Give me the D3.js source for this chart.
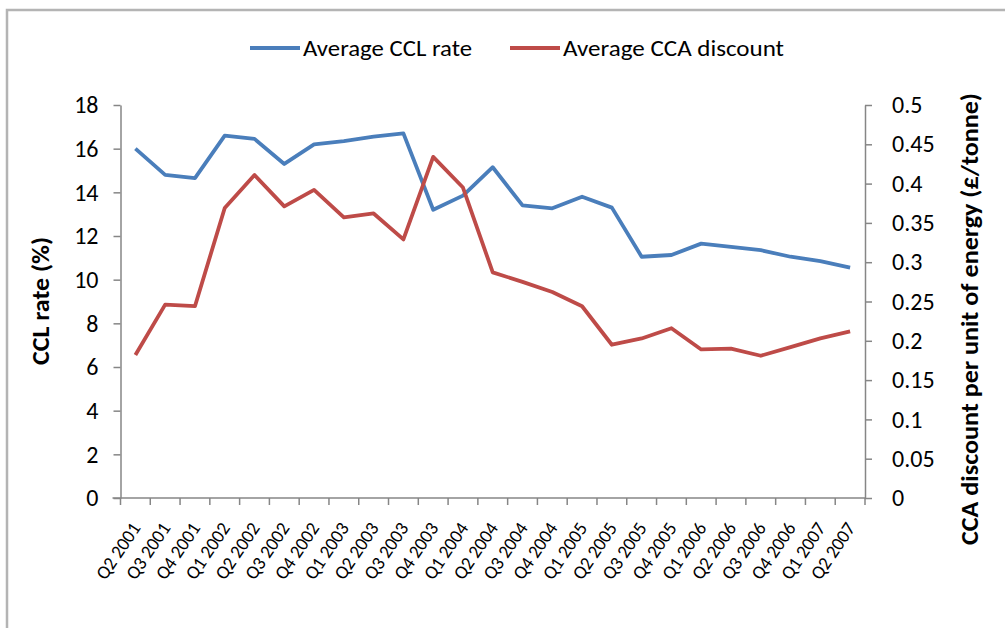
<!DOCTYPE html>
<html><head><meta charset="utf-8">
<script src="https://cdn.jsdelivr.net/npm/d3@7"></script>
<style>
body{margin:0;background:#fff}
svg{display:block}
text{font-family:Carlito,Lato,"Open Sans",sans-serif;fill:#000}
</style>
</head><body>
<svg id="chart" width="1005" height="628"></svg>
<script>
const categories = ["Q2 2001","Q3 2001","Q4 2001","Q1 2002","Q2 2002","Q3 2002","Q4 2002","Q1 2003","Q2 2003","Q3 2003","Q4 2003","Q1 2004","Q2 2004","Q3 2004","Q4 2004","Q1 2005","Q2 2005","Q3 2005","Q4 2005","Q1 2006","Q2 2006","Q3 2006","Q4 2006","Q1 2007","Q2 2007"];
const cclRate = [16.0,14.8,14.65,16.6,16.45,15.3,16.2,16.35,16.55,16.7,13.2,13.85,15.15,13.4,13.27,13.8,13.3,11.05,11.13,11.65,11.5,11.35,11.05,10.85,10.55];
const ccaDiscount = [0.182,0.246,0.244,0.369,0.411,0.371,0.392,0.357,0.362,0.329,0.434,0.395,0.287,0.275,0.262,0.244,0.195,0.203,0.216,0.189,0.190,0.181,0.192,0.203,0.212];
const leftTicks = [0,2,4,6,8,10,12,14,16,18];
const rightTicks = [0,0.05,0.1,0.15,0.2,0.25,0.3,0.35,0.4,0.45,0.5];
const seriesNames = ["Average CCL rate","Average CCA discount"];
const colors = ["#4a7ebb","#be4b48"];

const svg = d3.select("#chart");
const L = 120.5, R = 865, T = 105, B = 498;

// frame
svg.append("path").attr("d","M7,628 V10 H1005").attr("fill","none").attr("stroke","#b4b4b4").attr("stroke-width",2.5);

const x = d3.scaleBand().domain(categories).range([L,R]);
const yL = d3.scaleLinear().domain([0,18]).range([B,T]);
const yR = d3.scaleLinear().domain([0,0.5]).range([B,T]);

const axisColor = "#868686";

// left axis
const gl = svg.append("g").attr("transform",`translate(${L},0)`)
  .call(d3.axisLeft(yL).tickValues(leftTicks).tickSize(7).tickPadding(15).tickSizeOuter(0));
// right axis
const gr = svg.append("g").attr("transform",`translate(${R},0)`)
  .call(d3.axisRight(yR).tickValues(rightTicks).tickSize(7).tickPadding(20).tickSizeOuter(0)
    .tickFormat(d=>String(+d.toFixed(2))));
[gl,gr].forEach(g=>{
  g.select(".domain").attr("stroke",axisColor).attr("stroke-width",1.5);
  g.selectAll(".tick line").attr("stroke",axisColor).attr("stroke-width",1.5);
  g.selectAll(".tick text").attr("font-size",24).attr("fill","#000")
   .style("font-family","Carlito,Lato,'Open Sans',sans-serif");
});
// extend vertical axes a bit below
svg.append("line").attr("x1",L).attr("x2",L).attr("y1",B).attr("y2",B+7).attr("stroke",axisColor).attr("stroke-width",1.5);
svg.append("line").attr("x1",R).attr("x2",R).attr("y1",B).attr("y2",B+7).attr("stroke",axisColor).attr("stroke-width",1.5);

// x axis
svg.append("line").attr("x1",L-8).attr("x2",R).attr("y1",B).attr("y2",B).attr("stroke",axisColor).attr("stroke-width",1.5);
const bounds = categories.map(c=>x(c)).concat([R]);
svg.append("g").selectAll("line").data(bounds.slice(1,-1)).join("line")
  .attr("x1",d=>d).attr("x2",d=>d).attr("y1",B).attr("y2",B+7)
  .attr("stroke",axisColor).attr("stroke-width",1.5);
svg.append("g").selectAll("text").data(categories).join("text")
  .attr("transform",d=>`translate(${x(d)+x.bandwidth()/2+6},${B+30}) rotate(-56)`)
  .attr("text-anchor","end")
  .attr("font-size",19)
  .attr("textLength",64).attr("lengthAdjust","spacingAndGlyphs")
  .text(d=>d);

// lines
const cx = d=>x(d)+x.bandwidth()/2;
const lineL = d3.line().x((d,i)=>cx(categories[i])).y(d=>yL(d));
const lineR = d3.line().x((d,i)=>cx(categories[i])).y(d=>yR(d));
svg.append("path").datum(cclRate).attr("d",lineL).attr("fill","none")
  .attr("stroke",colors[0]).attr("stroke-width",3.8).attr("stroke-linejoin","round");
svg.append("path").datum(ccaDiscount).attr("d",lineR).attr("fill","none")
  .attr("stroke",colors[1]).attr("stroke-width",3.8).attr("stroke-linejoin","round");

// axis titles
svg.append("text").attr("transform","translate(49,301) rotate(-90)")
  .attr("text-anchor","middle").attr("font-size",24).attr("font-weight","bold")
  .attr("textLength",128).attr("lengthAdjust","spacingAndGlyphs").text("CCL rate (%)");
svg.append("text").attr("transform","translate(978,319) rotate(-90)")
  .attr("text-anchor","middle").attr("font-size",24).attr("font-weight","bold")
  .attr("textLength",452).attr("lengthAdjust","spacingAndGlyphs").text("CCA discount per unit of energy (£/tonne)");

// legend
const legendItems = [
  {name:seriesNames[0], color:colors[0], x1:250, x2:300, tx:303, tl:169},
  {name:seriesNames[1], color:colors[1], x1:510, x2:560, tx:563, tl:221}
];
const lg = svg.append("g");
legendItems.forEach(it=>{
  lg.append("line").attr("x1",it.x1).attr("x2",it.x2).attr("y1",48).attr("y2",48)
    .attr("stroke",it.color).attr("stroke-width",3.8);
  lg.append("text").attr("x",it.tx).attr("y",56).attr("font-size",23)
    .attr("textLength",it.tl).attr("lengthAdjust","spacingAndGlyphs").text(it.name);
});
</script>
</body></html>
